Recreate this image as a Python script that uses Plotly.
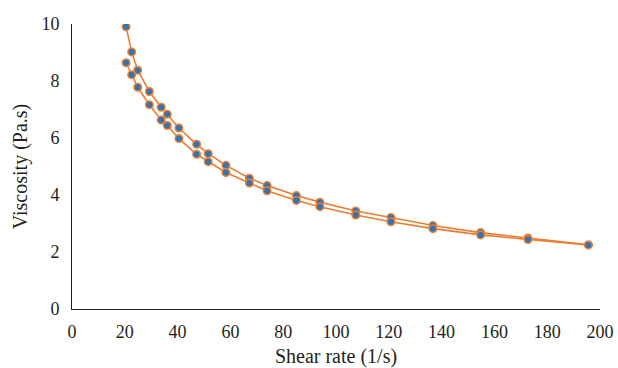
import plotly.graph_objects as go

shear_up = [20.5, 22.6, 24.9, 29.3, 33.8, 36.1, 40.5, 47.2, 51.6, 58.3, 67.2, 73.9,
            85.0, 93.9, 107.5, 120.8, 136.7, 154.8, 172.7, 195.6]
visc_up = [9.90, 9.02, 8.38, 7.63, 7.08, 6.83, 6.35, 5.78, 5.45, 5.04, 4.59, 4.33,
           3.98, 3.75, 3.44, 3.21, 2.93, 2.68, 2.49, 2.25]
shear_down = [20.5, 22.6, 24.9, 29.3, 33.8, 36.1, 40.5, 47.2, 51.6, 58.3, 67.2, 73.9,
              85.0, 93.9, 107.5, 120.8, 136.7, 154.8, 172.7, 195.6]
visc_down = [8.64, 8.22, 7.78, 7.17, 6.63, 6.44, 5.98, 5.43, 5.17, 4.79, 4.42, 4.15,
             3.81, 3.59, 3.30, 3.06, 2.82, 2.60, 2.44, 2.25]

x_ticks = [0, 20, 40, 60, 80, 100, 120, 140, 160, 180, 200]
y_ticks = [0, 2, 4, 6, 8, 10]

ORANGE = "#ED7D31"
BLUE = "#2E75B6"
FONT = "Liberation Serif"
TXT = "#231F20"

fig = go.Figure()
for xs, ys in [(shear_up, visc_up), (shear_down, visc_down)]:
    fig.add_trace(go.Scatter(
        x=xs, y=ys, mode="lines+markers",
        line=dict(color=ORANGE, width=1.6),
        marker=dict(size=7.5, color=BLUE, line=dict(color=ORANGE, width=1.5)),
        showlegend=False,
    ))

fig.update_layout(
    width=618, height=368,
    margin=dict(l=72, r=18, t=24, b=59),
    paper_bgcolor="white", plot_bgcolor="white",
    font=dict(family=FONT, size=18, color=TXT),
    xaxis=dict(
        range=[0, 200], tickvals=x_ticks, showgrid=False, zeroline=False,
        showline=True, linecolor=TXT, linewidth=1, ticks="",
        ticklabelstandoff=6, automargin=False,
        tickfont=dict(family=FONT, size=18, color=TXT),
        title=dict(text="Shear rate (1/s)", font=dict(family=FONT, size=20, color=TXT), standoff=8),
    ),
    yaxis=dict(
        range=[0, 10], tickvals=y_ticks, showgrid=False, zeroline=False,
        showline=True, linecolor=TXT, linewidth=1, ticks="",
        ticklabelstandoff=8, automargin=False,
        tickfont=dict(family=FONT, size=18, color=TXT),
        title=dict(text="Viscosity (Pa.s)", font=dict(family=FONT, size=20, color=TXT), standoff=8),
    ),
)

fig.write_html("out.html")
